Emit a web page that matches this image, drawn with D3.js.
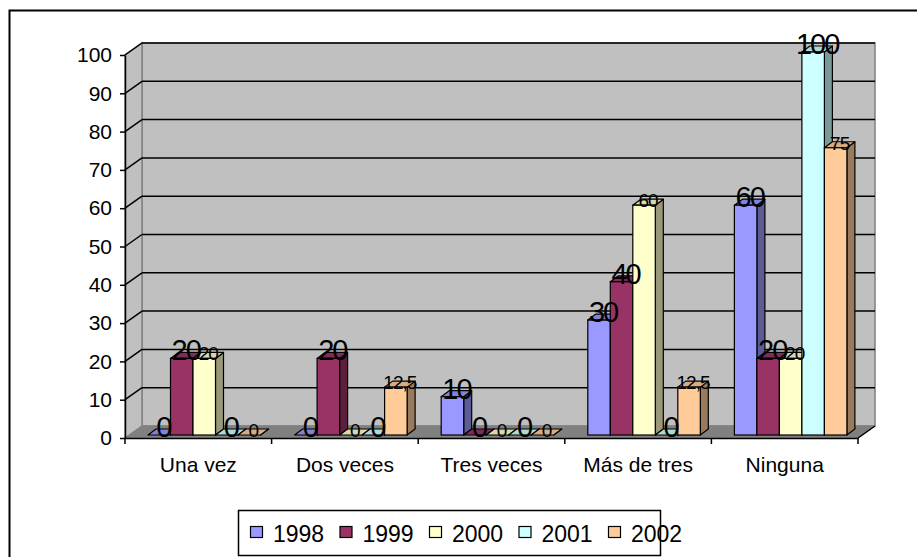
<!DOCTYPE html>
<html>
<head>
<meta charset="utf-8">
<script src="https://cdn.jsdelivr.net/npm/d3@7"></script>
<style>
  body { margin: 0; background: #fff; }
  text { font-family: "Liberation Sans", Arial, sans-serif; }
</style>
</head>
<body>
<div id="chart"></div>
<script>
// Data
const categories = ["Una vez", "Dos veces", "Tres veces", "Más de tres", "Ninguna"];
const years = ["1998", "1999", "2000", "2001", "2002"];
const v1998 = [0, 0, 10, 30, 60];
const v1999 = [20, 20, 0, 40, 20];
const v2000 = [20, 0, 0, 60, 20];
const v2001 = [0, 0, 0, 0, 100];
const v2002 = [0, 12.5, 0, 12.5, 75];
const yTicks = [0, 10, 20, 30, 40, 50, 60, 70, 80, 90, 100];
const colors = ["#9999FF", "#993366", "#FFFFCC", "#CCFFFF", "#FFCC99"];
const series = [v1998, v1999, v2000, v2001, v2002];

const width = 917;
const height = 557;
const plot = { left: 125, right: 858, top: 55, bottom: 438 };
const wall = { dx: 17, dy: -12 };  // depth of the back wall
const bar = { ox: 4, oy: -3, dx: 8, dy: -6 };  // bar front offset and depth

const svg = d3.select("#chart")
  .append("svg")
  .attr("width", width)
  .attr("height", height);

svg.append("rect")
  .attr("width", width)
  .attr("height", height)
  .attr("fill", "#fff");

// Outer border
svg.append("rect")
  .attr("x", 9.5)
  .attr("y", 10.5)
  .attr("width", 930)
  .attr("height", 570)
  .attr("fill", "none")
  .attr("stroke", "#000")
  .attr("stroke-width", 2);

const x0 = d3.scaleBand()
  .domain(categories)
  .range([plot.left, plot.right]);

const x1 = d3.scaleBand()
  .domain(years)
  .range([19, 19 + 112.5]);

const y = d3.scaleLinear()
  .domain([0, 100])
  .range([plot.bottom, plot.top]);

// Walls
svg.append("rect")
  .attr("x", plot.left + wall.dx)
  .attr("y", plot.top + wall.dy)
  .attr("width", plot.right - plot.left)
  .attr("height", plot.bottom - plot.top)
  .attr("fill", "#c0c0c0")
  .attr("stroke", "#808080")
  .attr("stroke-width", 1.5);

svg.append("polygon")
  .attr("points", [
    [plot.left, plot.bottom], [plot.left, plot.top],
    [plot.left + wall.dx, plot.top + wall.dy], [plot.left + wall.dx, plot.bottom + wall.dy]
  ].join(" "))
  .attr("fill", "#c0c0c0")
  .attr("stroke", "#808080")
  .attr("stroke-width", 1.5);

// Gridlines on back wall and side wall
yTicks.filter(d => d > 0).forEach(d => {
  svg.append("line")
    .attr("x1", plot.left + wall.dx).attr("x2", plot.right + wall.dx)
    .attr("y1", y(d) + wall.dy).attr("y2", y(d) + wall.dy)
    .attr("stroke", "#000").attr("stroke-width", 1.5);
  svg.append("line")
    .attr("x1", plot.left).attr("x2", plot.left + wall.dx)
    .attr("y1", y(d)).attr("y2", y(d) + wall.dy)
    .attr("stroke", "#000").attr("stroke-width", 1.5);
});

// Floor
svg.append("polygon")
  .attr("points", [
    [plot.left, plot.bottom], [plot.right, plot.bottom],
    [plot.right + wall.dx, plot.bottom + wall.dy], [plot.left + wall.dx, plot.bottom + wall.dy]
  ].join(" "))
  .attr("fill", "#808080")
  .attr("stroke", "#808080");

svg.append("line")
  .attr("x1", plot.right).attr("y1", plot.bottom)
  .attr("x2", plot.right + wall.dx).attr("y2", plot.bottom + wall.dy)
  .attr("stroke", "#000").attr("stroke-width", 1.5);

// Bars, drawn left to right so each front face covers the previous side
function shade(c, k) {
  const r = d3.rgb(c);
  return d3.rgb(r.r * k, r.g * k, r.b * k).toString();
}

const bars = [];
categories.forEach((cat, ci) => {
  years.forEach((yr, si) => {
    bars.push({ cat, yr, si, value: series[si][ci] });
  });
});

bars.forEach(d => {
  const bx = x0(d.cat) + x1(d.yr) + bar.ox;
  const bw = x1.bandwidth();
  const yb = y(0) + bar.oy;
  const yt = y(d.value) + bar.oy;
  const g = svg.append("g");
  g.append("polygon")
    .attr("points", [[bx + bw, yb], [bx + bw, yt], [bx + bw + bar.dx, yt + bar.dy], [bx + bw + bar.dx, yb + bar.dy]].join(" "))
    .attr("fill", shade(colors[d.si], 0.6))
    .attr("stroke", "#000").attr("stroke-width", 1.2).attr("stroke-linejoin", "round");
  g.append("polygon")
    .attr("points", [[bx, yt], [bx + bw, yt], [bx + bw + bar.dx, yt + bar.dy], [bx + bar.dx, yt + bar.dy]].join(" "))
    .attr("fill", shade(colors[d.si], 0.85))
    .attr("stroke", "#000").attr("stroke-width", 1.2).attr("stroke-linejoin", "round");
  g.append("rect")
    .attr("x", bx).attr("y", yt)
    .attr("width", bw).attr("height", yb - yt)
    .attr("fill", colors[d.si])
    .attr("stroke", "#000").attr("stroke-width", 1.2);
});

// Data labels (2000 and 2002 come out smaller)
const fmt = v => String(v).replace(".", ",");
bars.forEach(d => {
  const small = d.si === 2 || d.si === 4;
  svg.append("text")
    .attr("x", x0(d.cat) + x1(d.yr) + bar.ox + x1.bandwidth() / 2 + bar.dx / 2)
    .attr("y", y(d.value) + bar.oy + 2)
    .attr("text-anchor", "middle")
    .attr("font-size", small ? 19 : 29)
    .attr("letter-spacing", small ? -1 : -2)
    .attr("fill", "#000")
    .text(fmt(d.value));
});

// Y axis
svg.append("g")
  .attr("transform", `translate(${plot.left},0)`)
  .call(d3.axisLeft(y).tickValues(yTicks).tickSize(5).tickPadding(8).tickSizeOuter(0))
  .call(g => g.select(".domain").attr("stroke", "#000").attr("stroke-width", 1.5))
  .call(g => g.selectAll(".tick line").attr("stroke-width", 1.5))
  .call(g => g.selectAll("text").attr("font-size", 21).attr("font-family", "Liberation Sans, Arial, sans-serif"));

// X axis: labels centred, ticks at category boundaries
svg.append("g")
  .attr("transform", `translate(0,${plot.bottom})`)
  .call(d3.axisBottom(x0).tickSize(0).tickPadding(19).tickSizeOuter(0))
  .call(g => g.select(".domain").attr("stroke", "#000").attr("stroke-width", 1.5))
  .call(g => g.selectAll("text").attr("font-size", 21).attr("font-family", "Liberation Sans, Arial, sans-serif"));

svg.selectAll(".x-tick")
  .data(categories.map(c => x0(c)).concat([plot.right]))
  .enter()
  .append("line")
  .attr("class", "x-tick")
  .attr("x1", d => d).attr("x2", d => d)
  .attr("y1", plot.bottom).attr("y2", plot.bottom + 6)
  .attr("stroke", "#000").attr("stroke-width", 1.5);

// Legend
const legend = svg.append("g");
legend.append("rect")
  .attr("x", 238.5).attr("y", 510.5)
  .attr("width", 422).attr("height", 45)
  .attr("fill", "#fff")
  .attr("stroke", "#000").attr("stroke-width", 1.5);

const legendX = d3.scalePoint()
  .domain(years)
  .range([250, 608]);

years.forEach((yr, i) => {
  legend.append("rect")
    .attr("x", legendX(yr) + 0.5).attr("y", 526.5)
    .attr("width", 12).attr("height", 11)
    .attr("fill", colors[i])
    .attr("stroke", "#000").attr("stroke-width", 1.2);
  legend.append("text")
    .attr("x", legendX(yr) + 23).attr("y", 542)
    .attr("font-size", 23)
    .text(yr);
});
</script>
</body>
</html>
